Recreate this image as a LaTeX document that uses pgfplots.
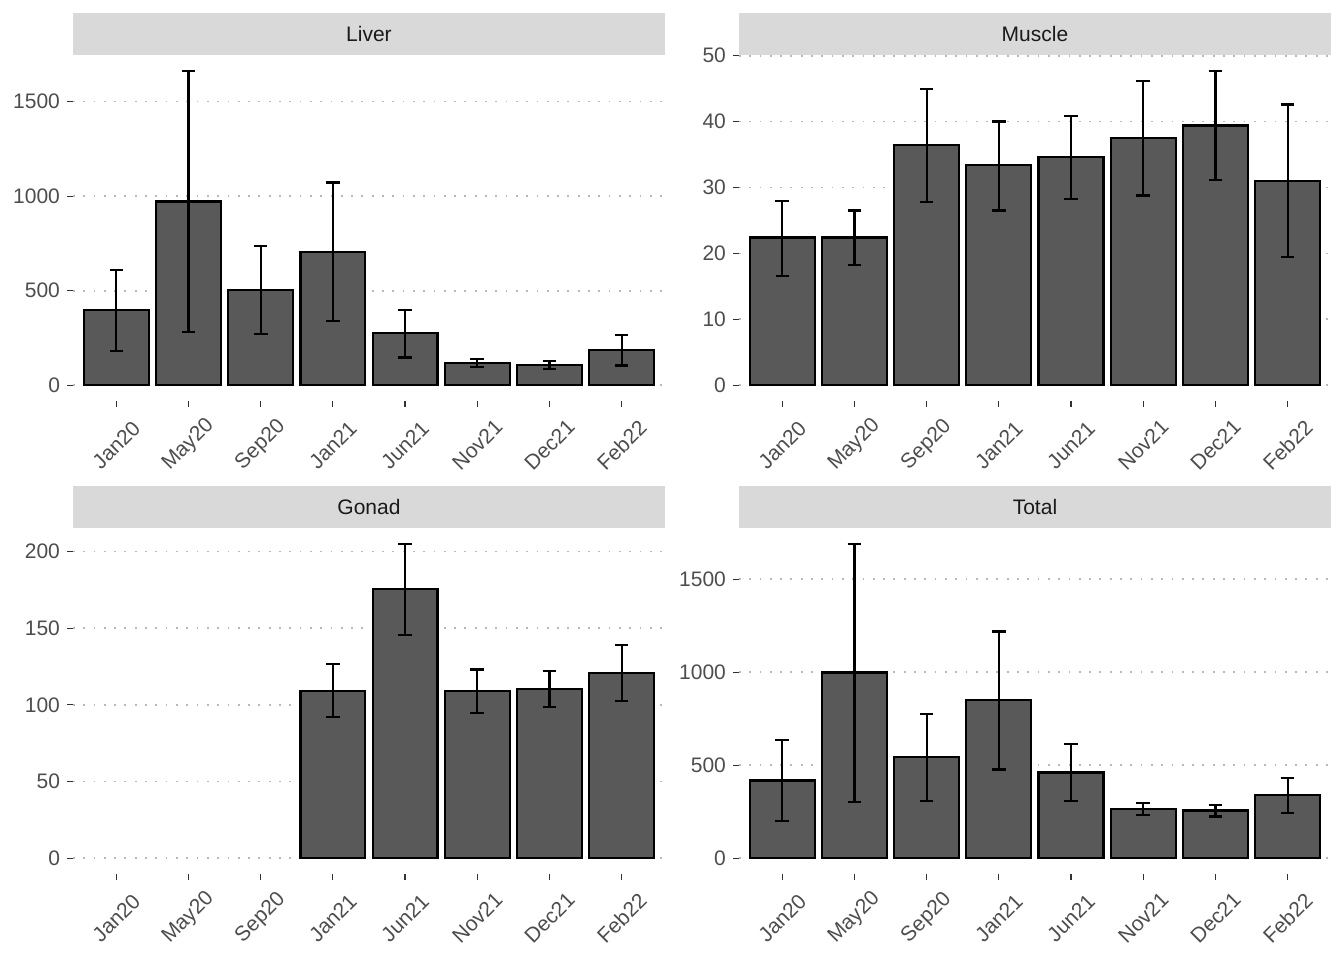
\documentclass[border=0pt]{standalone}
\usepackage{fontspec}
\setmainfont{Liberation Sans}
\usepackage{pgfplots}
\pgfplotsset{compat=1.18}
\usepackage{pgfplotstable}
\usepgfplotslibrary{groupplots}

\definecolor{barfill}{HTML}{595959}
\definecolor{stripc}{HTML}{D9D9D9}
\definecolor{striptext}{HTML}{1A1A1A}
\definecolor{labc}{HTML}{4D4D4D}
\definecolor{tickc}{HTML}{333333}
\definecolor{gridc}{HTML}{B8B8B8}

% x = sampling index, y = mean, lo/hi = error bar ends
\pgfplotstableread{
x y lo hi
1 396 180 610
2 972 282 1662
3 505 273 738
4 705 338 1072
5 275 147 397
6 118 95 141
7 106 86 129
8 185 105 264
}\liver

\pgfplotstableread{
x y lo hi
1 22.4 16.6 28.0
2 22.4 18.2 26.5
3 36.4 27.8 45.0
4 33.4 26.5 40.0
5 34.6 28.3 40.8
6 37.5 28.8 46.1
7 39.4 31.1 47.7
8 31.0 19.5 42.6
}\muscle

\pgfplotstableread{
x y lo hi
4 109.2 91.9 126.4
5 175.4 145.5 205.0
6 109.0 94.9 123.1
7 110.3 98.8 121.8
8 121.0 102.5 139.2
}\gonad

\pgfplotstableread{
x y lo hi
1 418 200 637
2 998 302 1690
3 543 309 774
4 849 477 1219
5 461 306 615
6 265 231 297
7 257 225 288
8 338 243 433
}\total

\pgfplotsset{
  barstyle/.style={ybar, bar width=0.9, fill=barfill, draw=black, line width=1.1pt,
    error bars/.cd, y dir=both, y explicit, error mark=|,
    error bar style={line width=1.1pt, black},
    error mark options={mark size=3.4pt, line width=1.1pt, black}},
}

\begin{document}
\begin{tikzpicture}
\begin{groupplot}[
  group style={group size=2 by 2, horizontal sep=37pt, vertical sep=63.5pt},
  scale only axis, width=296pt, height=173pt,
  xmin=0.4, xmax=8.6,
  xtick={1,...,8},
  xticklabels={Jan20,May20,Sep20,Jan21,Jun21,Nov21,Dec21,Feb22},
  axis line style={draw=none},
  xtick pos=bottom, ytick pos=left, tick align=outside,
  major tick length=3pt,
  tick style={color=tickc, line width=0.6pt},
  ymajorgrids,
  grid style={color=gridc, line width=0.9pt, dash pattern=on 0.9pt off 4.25pt},
  ticklabel style={font=\fontsize{10.5}{12}\selectfont, text=labc},
  /pgf/number format/assume math mode=true,
  /pgf/number format/1000 sep={},
  xticklabel style={yshift=-19pt, rotate=45, anchor=center},
  every axis title/.style={at={(0.5,1)}, anchor=south, fill=stripc,
    minimum width=296pt, minimum height=21pt, inner sep=0pt,
    font=\fontsize{10.5}{12}\selectfont, text=striptext},
]
\nextgroupplot[title={Liver}, ymin=-83, ymax=1746, ytick={0,500,1000,1500}]
\addplot[barstyle] table[x=x, y=y,
  y error plus expr=\thisrow{hi}-\thisrow{y},
  y error minus expr=\thisrow{y}-\thisrow{lo}] {\liver};

\nextgroupplot[title={Muscle}, ymin=-2.39, ymax=50.1, ytick={0,10,...,50}]
\addplot[barstyle] table[x=x, y=y,
  y error plus expr=\thisrow{hi}-\thisrow{y},
  y error minus expr=\thisrow{y}-\thisrow{lo}] {\muscle};

\nextgroupplot[title={Gonad}, ymin=-10.25, ymax=215.25, ytick={0,50,...,200}]
\addplot[barstyle] table[x=x, y=y,
  y error plus expr=\thisrow{hi}-\thisrow{y},
  y error minus expr=\thisrow{y}-\thisrow{lo}] {\gonad};

\nextgroupplot[title={Total}, ymin=-84.5, ymax=1774.5, ytick={0,500,1000,1500}]
\addplot[barstyle] table[x=x, y=y,
  y error plus expr=\thisrow{hi}-\thisrow{y},
  y error minus expr=\thisrow{y}-\thisrow{lo}] {\total};
\end{groupplot}
\pgfresetboundingbox
\path ([shift={(-36.5pt,-279.5pt)}]group c1r1.south west)
  rectangle ([shift={(635.5pt,200.5pt)}]group c1r1.south west);
\end{tikzpicture}
\end{document}
